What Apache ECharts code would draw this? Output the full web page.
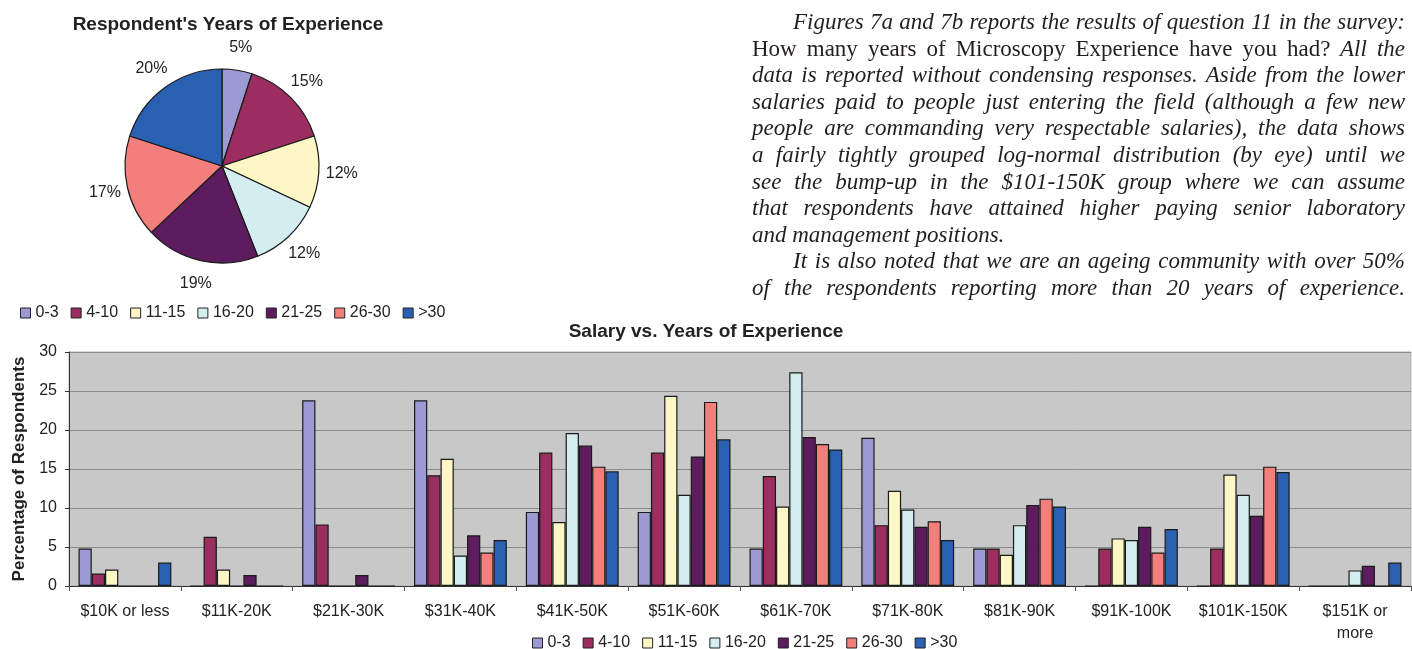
<!DOCTYPE html>
<html>
<head>
<meta charset="utf-8">
<script src="https://cdn.jsdelivr.net/npm/echarts@6/dist/echarts.min.js"></script>
<style>
  html, body { margin: 0; padding: 0; background: #fff; }
  #chart { position: absolute; left: 0; top: 0; width: 1412px; height: 649px; }
  #para {
    position: absolute; left: 752px; top: 9px; width: 653px;
    font-family: "Liberation Serif", serif; font-size: 23px; color: #231f20;
  }
  #para div { height: 26.6px; line-height: 26.6px; white-space: nowrap;
    text-align: justify; text-align-last: justify; font-style: italic; }
  #para .ind { padding-left: 41px; }
  #para .end { text-align-last: left; }
  #para .up { font-style: normal; }
</style>
</head>
<body>
<div id="chart"></div>
<div id="para">
  <div class="ind">Figures 7a and 7b reports the results of question 11 in the survey:</div>
  <div><span class="up">How many years of Microscopy Experience have you had?</span> All the</div>
  <div>data is reported without condensing responses. Aside from the lower</div>
  <div>salaries paid to people just entering the field (although a few new</div>
  <div>people are commanding very respectable salaries), the data shows</div>
  <div>a fairly tightly grouped log-normal distribution (by eye) until we</div>
  <div>see the bump-up in the $101-150K group where we can assume</div>
  <div>that respondents have attained higher paying senior laboratory</div>
  <div class="end">and management positions.</div>
  <div class="ind">It is also noted that we are an ageing community with over 50%</div>
  <div>of the respondents reporting more than 20 years of experience.</div>
</div>
<script>
    // experience groups and their colours
    const groups = ['0-3', '4-10', '11-15', '16-20', '21-25', '26-30', '>30'];
    const colors = ['#9d99d3', '#9b2d60', '#fcf7c5', '#d4edf1', '#5d1c5e', '#f27f7b', '#2a60b2'];
    // pie: share of respondents (%)
    const pieValues = [5, 15, 12, 12, 19, 17, 20];
    // bar chart categories
    const salaries = ['$10K or less', '$11K-20K', '$21K-30K', '$31K-40K', '$41K-50K', '$51K-60K',
        '$61K-70K', '$71K-80K', '$81K-90K', '$91K-100K', '$101K-150K', '$151K or\nmore'];
    // percentage of respondents per experience group
    const y0_3   = [4.8, 0, 23.8, 23.8, 9.5, 9.5, 4.8, 19.0, 4.8, 0, 0, 0];
    const y4_10  = [1.6, 6.3, 7.9, 14.2, 17.1, 17.1, 14.1, 7.8, 4.8, 4.8, 4.8, 0];
    const y11_15 = [2.1, 2.1, 0, 16.3, 8.2, 24.4, 10.2, 12.2, 4.0, 6.1, 14.3, 0];
    const y16_20 = [0, 0, 0, 3.9, 19.6, 11.7, 27.4, 9.8, 7.8, 5.9, 11.7, 2.0];
    const y21_25 = [0, 1.4, 1.4, 6.5, 18.0, 16.6, 19.1, 7.6, 10.4, 7.6, 9.0, 2.6];
    const y26_30 = [0, 0, 0, 4.3, 15.3, 23.6, 18.2, 8.3, 11.2, 4.3, 15.3, 0];
    const y30p   = [3.0, 0, 0, 5.9, 14.7, 18.8, 17.5, 5.9, 10.2, 7.3, 14.6, 3.0];
    const barData = [y0_3, y4_10, y11_15, y16_20, y21_25, y26_30, y30p];
    const yTicks = { min: 0, max: 30, interval: 5 };

    const font = 'Liberation Sans, Arial, sans-serif';
    const pieCenter = [222, 166];
    const pieRadius = 97;
    const labelRadius = 120;
    const pieTotal = pieValues.reduce((a, b) => a + b, 0);

    const legendBase = {
        icon: 'rect',
        itemWidth: 10,
        itemHeight: 10,
        itemGap: 12,
        selectedMode: false,
        itemStyle: { borderColor: '#222', borderWidth: 1 },
        textStyle: { fontFamily: font, fontSize: 16, color: '#222' },
        data: groups
    };

    const chart = echarts.init(document.getElementById('chart'));
    chart.setOption({
        color: colors,
        animation: false,
        backgroundColor: '#fff',
        title: {
            text: 'Salary vs. Years of Experience',
            left: 'center',
            top: 317,
            textStyle: { fontFamily: font, fontSize: 19, fontWeight: 'bold', color: '#222' }
        },
        graphic: [{
            type: 'text',
            x: 228, y: 25,
            style: {
                text: "Respondent's Years of Experience",
                font: 'bold 19px ' + font,
                fill: '#222',
                align: 'center',
                verticalAlign: 'middle'
            }
        }],
        legend: [
            Object.assign({}, legendBase, { left: 15, top: 300 }),
            Object.assign({}, legendBase, { left: 527, top: 630 })
        ],
        grid: {
            left: 69, right: 1, top: 352, bottom: 63,
            show: true,
            backgroundColor: '#c8c8c8',
            borderColor: '#b0b0b0',
            borderWidth: 1
        },
        xAxis: {
            type: 'category',
            data: salaries,
            axisLine: { lineStyle: { color: '#333', width: 1 } },
            axisTick: { show: true, length: 5, lineStyle: { color: '#555' } },
            axisLabel: {
                interval: 0, margin: 15, fontFamily: font, fontSize: 16,
                color: '#222', lineHeight: 22
            }
        },
        yAxis: {
            type: 'value',
            min: yTicks.min, max: yTicks.max, interval: yTicks.interval,
            name: 'Percentage of Respondents',
            nameLocation: 'middle',
            nameGap: 41,
            nameTextStyle: { fontFamily: font, fontSize: 17, fontWeight: 'bold', color: '#222' },
            axisLine: { show: true, lineStyle: { color: '#333' } },
            axisTick: { show: true, length: 4, lineStyle: { color: '#333' } },
            axisLabel: { margin: 12, fontFamily: font, fontSize: 16, color: '#222' },
            splitLine: { lineStyle: { color: '#8c8c8c', width: 1 } }
        },
        series: [{
            type: 'pie',
            name: 'experience',
            center: pieCenter,
            radius: pieRadius,
            startAngle: 90,
            clockwise: true,
            data: groups.map((g, i) => ({ name: g, value: pieValues[i], itemStyle: { color: colors[i] } })),
            itemStyle: { borderColor: '#1a1a1a', borderWidth: 1.2 },
            label: {
                show: true,
                position: 'outside',
                formatter: '{c}%',
                fontFamily: font, fontSize: 16, color: '#222'
            },
            labelLine: { show: false },
            labelLayout: function (p) {
                // put each percentage on a ring around the slice's mid angle
                let cum = 0;
                for (let i = 0; i < p.dataIndex; i++) cum += pieValues[i];
                const mid = (cum + pieValues[p.dataIndex] / 2) / pieTotal * Math.PI * 2;
                return {
                    x: pieCenter[0] + labelRadius * Math.sin(mid),
                    y: pieCenter[1] - labelRadius * Math.cos(mid),
                    align: 'center',
                    verticalAlign: 'middle'
                };
            },
            silent: true
        }].concat(groups.map((g, i) => ({
            type: 'bar',
            name: g,
            data: barData[i],
            barGap: '0%',
            barCategoryGap: '17%',
            itemStyle: { color: colors[i], borderColor: '#1a1a1a', borderWidth: 1.2 }
        })))
    });
</script>
</body>
</html>
